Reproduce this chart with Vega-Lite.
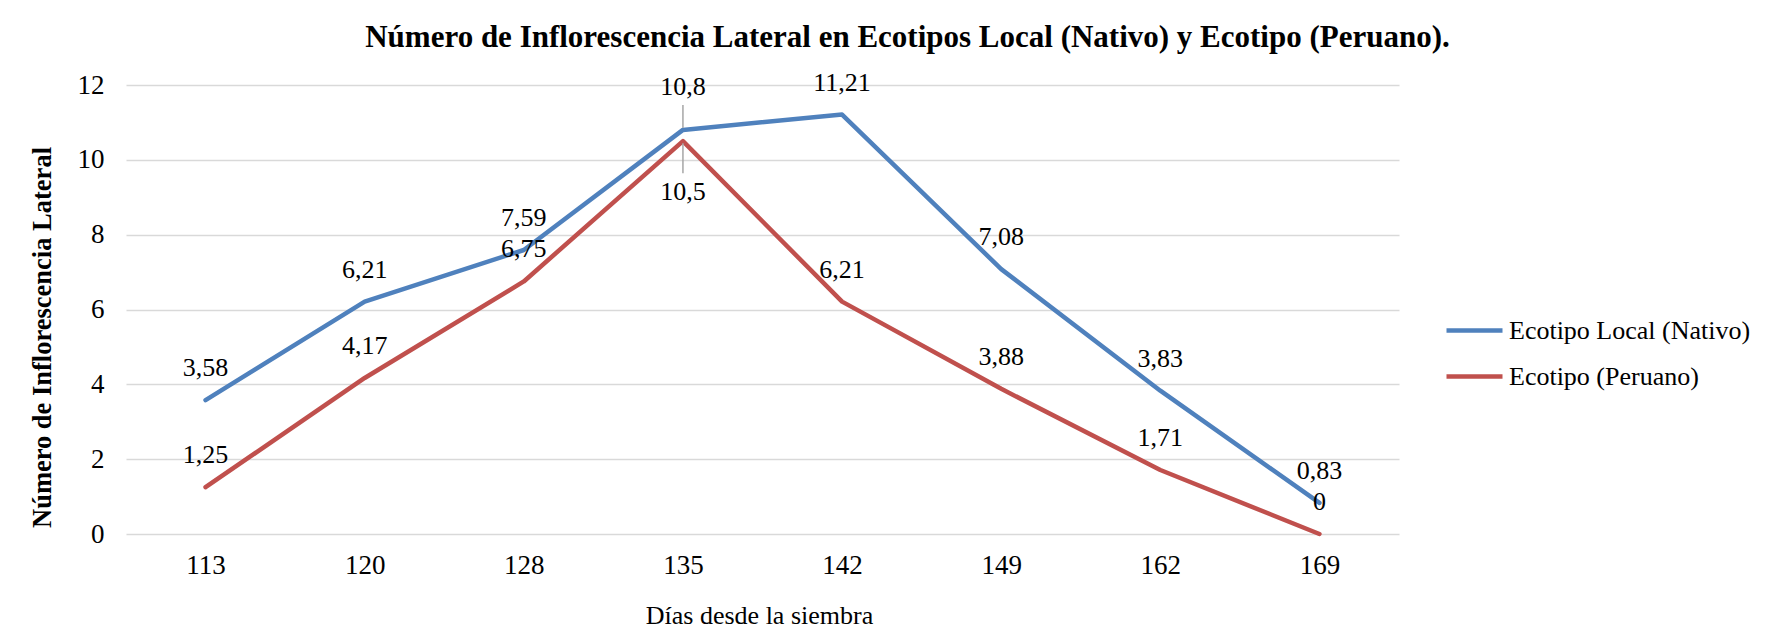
{
  "$schema": "https://vega.github.io/schema/vega-lite/v6.json",
  "width": 1273,
  "height": 449,
  "autosize": "none",
  "padding": {"left": 126, "top": 85, "right": 370, "bottom": 98},
  "background": "white",
  "config": {
    "font": "Liberation Serif",
    "view": {"stroke": null},
    "locale": {"number": {"decimal": ",", "thousands": ".", "grouping": [3], "currency": ["", " €"]}}
  },
  "title": {
    "text": "Número de Inflorescencia Lateral en Ecotipos Local (Nativo) y Ecotipo (Peruano).",
    "font": "Liberation Serif",
    "fontSize": 31,
    "fontWeight": "bold",
    "color": "black",
    "anchor": "middle",
    "dx": 145,
    "offset": 16
  },
  "data": {
    "values": [
      {"dia": "113", "serie": "Ecotipo Local (Nativo)", "valor": 3.58},
      {"dia": "120", "serie": "Ecotipo Local (Nativo)", "valor": 6.21},
      {"dia": "128", "serie": "Ecotipo Local (Nativo)", "valor": 7.59},
      {"dia": "135", "serie": "Ecotipo Local (Nativo)", "valor": 10.8},
      {"dia": "142", "serie": "Ecotipo Local (Nativo)", "valor": 11.21},
      {"dia": "149", "serie": "Ecotipo Local (Nativo)", "valor": 7.08},
      {"dia": "162", "serie": "Ecotipo Local (Nativo)", "valor": 3.83},
      {"dia": "169", "serie": "Ecotipo Local (Nativo)", "valor": 0.83},
      {"dia": "113", "serie": "Ecotipo  (Peruano)", "valor": 1.25},
      {"dia": "120", "serie": "Ecotipo  (Peruano)", "valor": 4.17},
      {"dia": "128", "serie": "Ecotipo  (Peruano)", "valor": 6.75},
      {"dia": "135", "serie": "Ecotipo  (Peruano)", "valor": 10.5},
      {"dia": "142", "serie": "Ecotipo  (Peruano)", "valor": 6.21},
      {"dia": "149", "serie": "Ecotipo  (Peruano)", "valor": 3.88},
      {"dia": "162", "serie": "Ecotipo  (Peruano)", "valor": 1.71},
      {"dia": "169", "serie": "Ecotipo  (Peruano)", "valor": 0}
    ]
  },
  "encoding": {
    "x": {
      "field": "dia",
      "type": "ordinal",
      "scale": {"type": "point", "padding": 0.5},
      "axis": {
        "title": "Días desde la siembra",
        "titleFont": "Liberation Serif",
        "titleFontSize": 26,
        "titleFontWeight": "normal",
        "titleColor": "black",
        "titleX": 633,
        "titleY": 81,
        "titleBaseline": "middle",
        "labelFont": "Liberation Serif",
        "labelFontSize": 27,
        "labelColor": "black",
        "labelAngle": 0,
        "labelPadding": 18,
        "domain": false,
        "ticks": false,
        "grid": false
      }
    },
    "y": {
      "field": "valor",
      "type": "quantitative",
      "scale": {"domain": [0, 12]},
      "axis": {
        "title": "Número de Inflorescencia Lateral",
        "titleFont": "Liberation Serif",
        "titleFontSize": 26.5,
        "titleFontWeight": "bold",
        "titleColor": "black",
        "titleX": -84,
        "titleY": 252,
        "titleBaseline": "middle",
        "values": [0, 2, 4, 6, 8, 10, 12],
        "labelFont": "Liberation Serif",
        "labelFontSize": 27,
        "labelColor": "black",
        "labelPadding": 22,
        "domain": false,
        "ticks": false,
        "grid": true,
        "gridColor": "#d9d9d9",
        "gridWidth": 1.5
      }
    }
  },
  "layer": [
    {
      "mark": {"type": "line", "strokeWidth": 4.5, "strokeCap": "round", "strokeJoin": "round"},
      "encoding": {
        "color": {
          "field": "serie",
          "type": "nominal",
          "scale": {"domain": ["Ecotipo Local (Nativo)", "Ecotipo  (Peruano)"], "range": ["#4f81bd", "#c0504d"]},
          "legend": {
            "title": null,
            "orient": "none",
            "legendX": 1318,
            "legendY": 215,
            "symbolType": "stroke",
            "symbolSize": 3136,
            "symbolStrokeWidth": 4.5,
            "labelFont": "Liberation Serif",
            "labelFontSize": 26,
            "labelColor": "black",
            "labelOffset": 4,
            "rowPadding": 2,
            "labelLimit": 400
          }
        }
      }
    },
    {
      "transform": [{"filter": "datum.dia !== '135'"}],
      "mark": {"type": "text", "fontSize": 26, "font": "Liberation Serif", "color": "black", "dy": -32, "baseline": "middle"},
      "encoding": {"text": {"field": "valor", "type": "quantitative", "format": "~g"}}
    },
    {
      "transform": [{"filter": "datum.dia === '135' && datum.serie === 'Ecotipo Local (Nativo)'"}],
      "mark": {"type": "text", "fontSize": 26, "font": "Liberation Serif", "color": "black", "dy": -43, "baseline": "middle"},
      "encoding": {"text": {"field": "valor", "type": "quantitative", "format": "~g"}}
    },
    {
      "transform": [{"filter": "datum.dia === '135' && datum.serie === 'Ecotipo  (Peruano)'"}],
      "mark": {"type": "text", "fontSize": 26, "font": "Liberation Serif", "color": "black", "dy": 51, "baseline": "middle"},
      "encoding": {"text": {"field": "valor", "type": "quantitative", "format": "~g"}}
    },
    {
      "transform": [{"filter": "datum.dia === '135' && datum.serie === 'Ecotipo Local (Nativo)'"}],
      "mark": {"type": "rule", "color": "#a6a6a6", "strokeWidth": 1.5, "yOffset": -25, "y2Offset": -2},
      "encoding": {"y2": {"field": "valor"}}
    },
    {
      "transform": [{"filter": "datum.dia === '135' && datum.serie === 'Ecotipo  (Peruano)'"}],
      "mark": {"type": "rule", "color": "#a6a6a6", "strokeWidth": 1.5, "yOffset": 2, "y2Offset": 32},
      "encoding": {"y2": {"field": "valor"}}
    }
  ]
}
